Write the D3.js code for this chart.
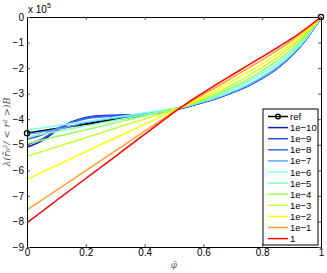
<!DOCTYPE html>
<html><head><meta charset="utf-8">
<script src="https://cdn.jsdelivr.net/npm/d3@7"></script>
<style>body{margin:0;background:#fff;}svg{display:block;}</style>
</head><body><svg id="c" width="327" height="273"></svg>
<script>
const phi = [0,0.05,0.1,0.15,0.2,0.25,0.3,0.35,0.4,0.45,0.5,0.55,0.6,0.65,0.7,0.75,0.8,0.85,0.9,0.95,1];
const refVals = [-4.55,-4.46,-4.37,-4.28,-4.19,-4.10,-4.01,-3.92,-3.82,-3.72,-3.60,-3.47,-3.32,-3.15,-2.94,-2.69,-2.38,-2.00,-1.50,-0.85,0];
const s1e10 = [-5.10,-4.85,-4.45,-4.12,-3.93,-3.86,-3.84,-3.83,-3.80,-3.74,-3.64,-3.50,-3.34,-3.16,-2.95,-2.70,-2.39,-2.01,-1.51,-0.86,0];
const s1e9  = [-5.00,-4.78,-4.42,-4.12,-3.95,-3.88,-3.86,-3.84,-3.81,-3.75,-3.64,-3.50,-3.34,-3.16,-2.95,-2.70,-2.39,-2.01,-1.51,-0.86,0];
const s1e8  = [-4.78,-4.62,-4.38,-4.14,-3.98,-3.91,-3.88,-3.86,-3.82,-3.75,-3.63,-3.49,-3.33,-3.16,-2.94,-2.69,-2.38,-2.00,-1.50,-0.85,0];
const s1e7  = [-4.58,-4.50,-4.40,-4.27,-4.13,-4.02,-3.95,-3.88,-3.81,-3.73,-3.62,-3.48,-3.32,-3.14,-2.93,-2.68,-2.37,-1.99,-1.49,-0.85,0];
const s1e6  = [-4.42,-4.34,-4.26,-4.17,-4.09,-4.00,-3.92,-3.84,-3.75,-3.67,-3.58,-3.46,-3.30,-3.12,-2.89,-2.63,-2.31,-1.93,-1.45,-0.82,0];
const s1e5  = [-4.70,-4.59,-4.48,-4.37,-4.26,-4.15,-4.04,-3.93,-3.82,-3.71,-3.60,-3.46,-3.28,-3.06,-2.81,-2.53,-2.20,-1.83,-1.38,-0.78,0];
const s1e4  = [-4.95,-4.82,-4.68,-4.55,-4.41,-4.28,-4.14,-4.01,-3.87,-3.74,-3.60,-3.45,-3.25,-3.01,-2.74,-2.44,-2.10,-1.72,-1.27,-0.71,0];
const s1e3  = [-5.45,-5.27,-5.09,-4.90,-4.72,-4.54,-4.35,-4.17,-3.99,-3.81,-3.62,-3.43,-3.20,-2.93,-2.64,-2.32,-1.97,-1.59,-1.15,-0.63,0];
const s1e2  = [-6.35,-6.08,-5.81,-5.54,-5.27,-5.00,-4.73,-4.47,-4.20,-3.93,-3.66,-3.40,-3.12,-2.82,-2.50,-2.17,-1.83,-1.46,-1.05,-0.56,0];
const s1e1  = [-7.55,-7.17,-6.78,-6.40,-6.01,-5.63,-5.24,-4.86,-4.47,-4.09,-3.70,-3.36,-3.03,-2.70,-2.36,-2.02,-1.68,-1.32,-0.93,-0.49,0];
const s1    = [-8.05,-7.62,-7.18,-6.75,-6.32,-5.89,-5.46,-5.02,-4.59,-4.16,-3.73,-3.33,-2.96,-2.60,-2.25,-1.90,-1.56,-1.21,-0.85,-0.44,0];
const seriesNames = ["1e\u221210","1e\u22129","1e\u22128","1e\u22127","1e\u22126","1e\u22125","1e\u22124","1e\u22123","1e\u22122","1e\u22121","1"];
const seriesColors = ["#1020b0","#2848e8","#3a68ff","#60a0ff","#80ffff","#80ffc0","#98ff60","#c0ff30","#ffff00","#ffa030","#ff0000"];
const seriesVals = [s1e10,s1e9,s1e8,s1e7,s1e6,s1e5,s1e4,s1e3,s1e2,s1e1,s1];
const xTicks = [0,0.2,0.4,0.6,0.8,1];
const yTicks = [0,-1,-2,-3,-4,-5,-6,-7,-8,-9];

const svg = d3.select("#c");
const L=27,R=321,T=17,B=247;
const x = d3.scaleLinear().domain([0,1]).range([L,R]);
const y = d3.scaleLinear().domain([-9,0]).range([B,T]);
const font = "Liberation Sans, Arial, sans-serif";

const line = d3.line().x((d,i)=>x(phi[i])).y(d=>y(d)).curve(d3.curveMonotoneX);
const g = svg.append("g");
g.append("path").attr("d", line(refVals)).attr("fill","none").attr("stroke","#000").attr("stroke-width",2);
seriesVals.forEach((v,k)=>{
  g.append("path").attr("d", line(v)).attr("fill","none").attr("stroke",seriesColors[k]).attr("stroke-width",1.5);
});
[0, phi.length-1].forEach(i=>{
  g.append("circle").attr("cx",x(phi[i])).attr("cy",y(refVals[i])).attr("r",2.6)
   .attr("fill","none").attr("stroke","#000").attr("stroke-width",1.3);
});

// axes (MATLAB style, ticks inward on all sides)
const ax = svg.append("g");
const xb = d3.axisBottom(x).tickValues(xTicks).tickSize(-3).tickPadding(2).tickFormat(d=>d3.format("")(d));
const xt = d3.axisTop(x).tickValues(xTicks).tickSize(-3).tickFormat("");
const yl = d3.axisLeft(y).tickValues(yTicks).tickSize(-3).tickPadding(3).tickFormat(d=>d===0?"0":"\u2212"+Math.abs(d));
const yr = d3.axisRight(y).tickValues(yTicks).tickSize(-3).tickFormat("");
ax.append("g").attr("transform",`translate(0,${B})`).call(xb);
ax.append("g").attr("transform",`translate(0,${T})`).call(xt);
ax.append("g").attr("transform",`translate(${L},0)`).call(yl);
ax.append("g").attr("transform",`translate(${R},0)`).call(yr);
ax.selectAll(".domain").attr("stroke","#000").attr("stroke-width",1);
ax.selectAll(".tick line").attr("stroke","#555");
ax.selectAll(".tick text").attr("font-family",font).attr("font-size",10).attr("fill","#000");

// exponent
const ex = svg.append("text").attr("x",28).attr("y",13).attr("font-family",font).attr("font-size",10).attr("fill","#000");
ex.append("tspan").text("x 10");
ex.append("tspan").attr("font-size",7).attr("dy",-5).text("5");

// axis labels
svg.append("text").attr("transform",`translate(10,${(T+B)/2}) rotate(-90)`).attr("text-anchor","middle")
  .attr("font-family","DejaVu Serif, Liberation Serif, serif").attr("font-style","italic").attr("font-size",9.5).attr("fill","#555")
  .text("\u03bb(r\u0303\u2080\u00b2/ < r\u00b2 >)B");
svg.append("text").attr("x",(L+R)/2).attr("y",268).attr("text-anchor","middle")
  .attr("font-family","DejaVu Serif, Liberation Serif, serif").attr("font-style","italic").attr("font-size",9).attr("fill","#666")
  .text("\u03c6\u0304");

// legend
const lg = svg.append("g");
const lx0=263, lx1=318, ly0=109, ly1=245, step=11.1, firstY=116.5;
lg.append("rect").attr("x",lx0).attr("y",ly0).attr("width",lx1-lx0).attr("height",ly1-ly0)
  .attr("fill","#fff").attr("stroke","#000").attr("stroke-width",1);
const names = ["ref"].concat(seriesNames);
const cols = ["#000"].concat(seriesColors);
names.forEach((n,i)=>{
  const yy = firstY + i*step;
  lg.append("line").attr("x1",268).attr("x2",288).attr("y1",yy).attr("y2",yy)
    .attr("stroke",cols[i]).attr("stroke-width",1.5);
  if(i===0) lg.append("circle").attr("cx",278).attr("cy",yy).attr("r",2.4).attr("fill","none").attr("stroke","#000").attr("stroke-width",1.3);
  lg.append("text").attr("x",290).attr("y",yy+3.5).attr("font-family",font).attr("font-size",9.5).attr("fill","#000").text(n);
});
</script></body></html>
